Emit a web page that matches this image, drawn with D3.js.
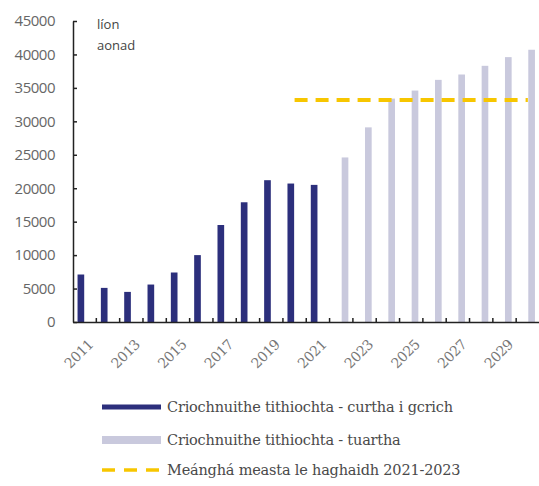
<!DOCTYPE html>
<html>
<head>
<meta charset="utf-8">
<script src="https://cdn.jsdelivr.net/npm/d3@7"></script>
<style>
  body { margin: 0; background: #fff; }
  svg { display: block; }
</style>
</head>
<body>
<svg width="539" height="486"></svg>
<script>
// categories
var years = ["2011","2012","2013","2014","2015","2016","2017","2018","2019","2020",
             "2021","2022","2023","2024","2025","2026","2027","2028","2029","2030"];
// completions, actual (2011-2021)
var doneYears = ["2011","2012","2013","2014","2015","2016","2017","2018","2019","2020","2021"];
var doneValues = [7100, 5100, 4500, 5600, 7400, 10000, 14500, 17900, 21200, 20700, 20500];
// completions, projected (2022-2030)
var projYears = ["2022","2023","2024","2025","2026","2027","2028","2029","2030"];
var projValues = [24600, 29100, 33400, 34600, 36200, 37000, 38300, 39600, 40700];
// estimated average line
var avgYears = ["2020", "2030"];
var avgValue = 33200;
var yTicks = [0, 5000, 10000, 15000, 20000, 25000, 30000, 35000, 40000, 45000];
var labelYears = ["2011","2013","2015","2017","2019","2021","2023","2025","2027","2029"];
var legendLabels = ["Criochnuithe tithiochta - curtha i gcrich",
                    "Criochnuithe tithiochta - tuartha",
                    "Meánghá measta le haghaidh 2021-2023"];

var navy = "#2c2f7c", lilac = "#c9c9dd", gold = "#f7c600";

var svg = d3.select("svg");
var x0 = 73, y0 = 322, yTop = 21;

var x = d3.scaleBand().domain(years).range([x0, 539.5]);
var sub = d3.scaleBand().domain(["done", "proj"]).range([0, x.bandwidth()])
    .paddingInner(0.12).paddingOuter(0.6);
var y = d3.scaleLinear().domain([0, 45000]).range([y0, yTop]);

// bars
svg.append("g").selectAll("rect")
    .data(doneValues)
  .enter().append("rect")
    .attr("x", function(d, i) { return x(doneYears[i]) + sub("done"); })
    .attr("y", function(d) { return y(d); })
    .attr("width", sub.bandwidth())
    .attr("height", function(d) { return y0 - y(d); })
    .attr("fill", navy);

svg.append("g").selectAll("rect")
    .data(projValues)
  .enter().append("rect")
    .attr("x", function(d, i) { return x(projYears[i]) + sub("proj"); })
    .attr("y", function(d) { return y(d); })
    .attr("width", sub.bandwidth())
    .attr("height", function(d) { return y0 - y(d); })
    .attr("fill", lilac);

// average line
svg.append("line")
    .attr("x1", x(avgYears[0]) + x.bandwidth() / 2)
    .attr("x2", x(avgYears[1]) + x.bandwidth() / 2)
    .attr("y1", y(avgValue))
    .attr("y2", y(avgValue))
    .attr("stroke", gold)
    .attr("stroke-width", 4)
    .attr("stroke-dasharray", "13,8");

// y axis
var yAxis = svg.append("g")
    .attr("transform", "translate(" + x0 + ",0)")
    .call(d3.axisLeft(y).tickValues(yTicks).tickSize(-4).tickSizeOuter(0).tickPadding(18)
        .tickFormat(d3.format("d")));
yAxis.select(".domain").attr("stroke", "#222").attr("stroke-width", 1.5);
yAxis.selectAll(".tick line").attr("stroke", "#222").attr("stroke-width", 1.5);
yAxis.selectAll("text")
    .attr("fill", "#666")
    .style("font-family", "'Open Sans', sans-serif")
    .style("font-size", "15px")
    .style("letter-spacing", "-0.5px");

// x axis
var xAxis = svg.append("g")
    .attr("transform", "translate(0," + y0 + ")")
    .call(d3.axisBottom(x).tickSize(0).tickSizeOuter(0).tickFormat(""));
xAxis.select(".domain").attr("stroke", "#222").attr("stroke-width", 1.5);

svg.append("g").selectAll("line")
    .data(years.slice(1))
  .enter().append("line")
    .attr("x1", function(d) { return x(d); })
    .attr("x2", function(d) { return x(d); })
    .attr("y1", y0)
    .attr("y2", y0 - 4)
    .attr("stroke", "#222")
    .attr("stroke-width", 1.5);

svg.append("g").selectAll("text")
    .data(labelYears)
  .enter().append("text")
    .attr("transform", function(d) {
        return "translate(" + (x(d) + x.bandwidth() / 2 + 6) + "," + (y0 + 20) + ") rotate(-45)";
    })
    .attr("text-anchor", "end")
    .attr("dy", "0.35em")
    .attr("fill", "#777")
    .style("font-family", "'DejaVu Serif', serif")
    .style("font-size", "14px")
    .style("letter-spacing", "-0.5px")
    .text(function(d) { return d; });

// unit label
svg.append("text")
    .attr("x", 97).attr("y", 29)
    .attr("fill", "#444")
    .style("font-family", "'Open Sans', sans-serif")
    .style("font-size", "13px")
    .text("líon");
svg.append("text")
    .attr("x", 97).attr("y", 50)
    .attr("fill", "#444")
    .style("font-family", "'Open Sans', sans-serif")
    .style("font-size", "13px")
    .text("aonad");

// legend
var legY = [407, 440, 470];
var leg = svg.append("g");
leg.append("line").attr("x1", 102).attr("x2", 161).attr("y1", legY[0]).attr("y2", legY[0])
    .attr("stroke", navy).attr("stroke-width", 5);
leg.append("line").attr("x1", 102).attr("x2", 161).attr("y1", legY[1]).attr("y2", legY[1])
    .attr("stroke", lilac).attr("stroke-width", 8);
leg.append("line").attr("x1", 102).attr("x2", 161).attr("y1", legY[2]).attr("y2", legY[2])
    .attr("stroke", gold).attr("stroke-width", 3.5).attr("stroke-dasharray", "13,9");
leg.selectAll("text")
    .data(legendLabels)
  .enter().append("text")
    .attr("x", 167)
    .attr("y", function(d, i) { return legY[i]; })
    .attr("dy", "0.35em")
    .attr("fill", "#4a4a4a")
    .style("font-family", "'DejaVu Serif', serif")
    .style("font-size", "14.5px")
    .style("letter-spacing", "-0.2px")
    .text(function(d) { return d; });
</script>
</body>
</html>
